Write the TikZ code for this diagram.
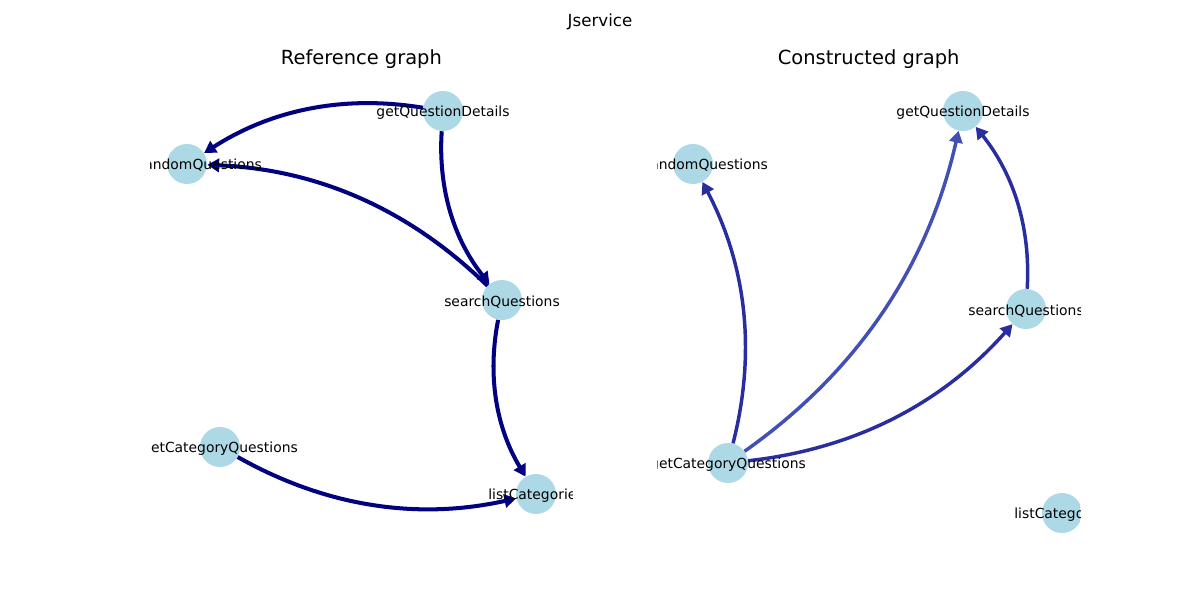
\documentclass[tikz,border=0pt]{standalone}
\usepackage{fontspec}
\setmainfont{DejaVu Sans}
\usetikzlibrary{arrows.meta}
\definecolor{nodeblue}{HTML}{ADD8E6}
\definecolor{refedge}{HTML}{000080}
\definecolor{conedge}{HTML}{282D9F}
\definecolor{conlight}{HTML}{4250B4}
\begin{document}
\begin{tikzpicture}[x=0.72pt,y=-0.72pt,
    vert/.style={circle, fill=nodeblue, minimum size=28.8pt, inner sep=0pt},
    lbl/.style={font=\fontsize{10}{12}\selectfont, inner sep=0pt, yshift=-1.2pt},
    edge/.style={-{Triangle[length=8.5pt,width=9.5pt]}, line width=2.9pt, bend right=21, looseness=0.92},
    title/.style={font=\fontsize{14}{16}\selectfont}]
    \useasboundingbox (0,0) rectangle (1200,600);
    \node[font=\fontsize{12}{14}\selectfont] (sup) at (600,21.5) {Jservice};

    % reference graph
    \node[title] (refT) at (361.4,59) {Reference graph};
    \begin{scope}
        \clip (150,72) rectangle (572.7,534);
        \node[vert] (lDet) at (443,111) {}; \node[vert] (lRand) at (187,164) {};
        \node[vert] (lSearch) at (502,300) {}; \node[vert] (lCat) at (220,447) {};
        \node[vert] (lList) at (536,494) {};
        \draw[edge, refedge] (lDet) to (lRand);
        \draw[edge, refedge] (lDet) to (lSearch);
        \draw[edge, refedge] (lSearch) to (lRand);
        \draw[edge, refedge] (lSearch) to (lList);
        \draw[edge, refedge] (lCat) to (lList);
        \node[lbl] (lDetT) at (lDet) {getQuestionDetails};
        \node[lbl] (lRandT) at (lRand) {getRandomQuestions};
        \node[lbl] (lSearchT) at (lSearch) {searchQuestions};
        \node[lbl] (lCatT) at (lCat) {getCategoryQuestions};
        \node[lbl] (lListT) at (lList) {listCategories};
    \end{scope}

    % constructed graph
    \node[title] (conT) at (868.7,59) {Constructed graph};
    \begin{scope}
        \clip (657.3,72) rectangle (1080,534);
        \node[vert] (rDet) at (963,111) {}; \node[vert] (rRand) at (693,164) {};
        \node[vert] (rSearch) at (1026,309) {}; \node[vert] (rCat) at (728,463) {};
        \node[vert] (rList) at (1062,513) {};
        \draw[edge, conedge, line width=2.5pt] (rCat) to (rRand);
        \draw[edge, conlight, line width=2.5pt] (rCat) to (rDet);
        \draw[edge, conedge, line width=2.5pt] (rSearch) to (rDet);
        \draw[edge, conedge, line width=2.5pt] (rCat) to (rSearch);
        \node[lbl] (rDetT) at (rDet) {getQuestionDetails};
        \node[lbl] (rRandT) at (rRand) {getRandomQuestions};
        \node[lbl] (rSearchT) at (rSearch) {searchQuestions};
        \node[lbl] (rCatT) at (rCat) {getCategoryQuestions};
        \node[lbl] (rListT) at (rList) {listCategories};
    \end{scope}
\end{tikzpicture}
\end{document}
